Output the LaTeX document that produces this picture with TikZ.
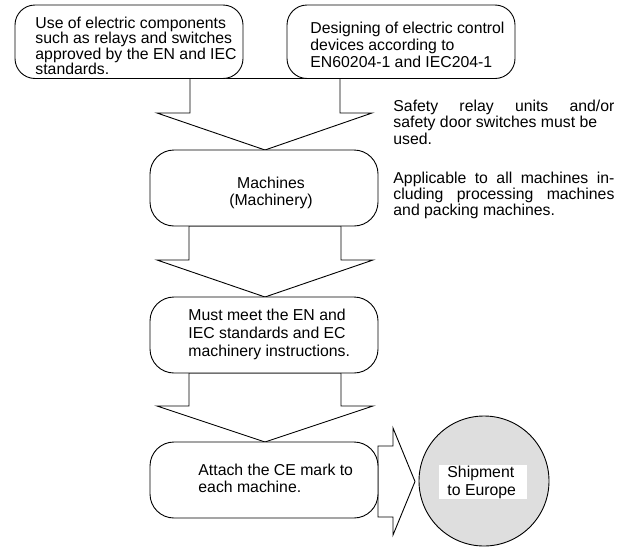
\documentclass[tikz,border=0pt]{standalone}
\usepackage{fontspec}
\setmainfont{Liberation Sans}
\begin{document}
\begin{tikzpicture}[x=1pt,y=-1pt,
  line width=0.9pt,
  box/.style={draw, rounded corners=20pt, fill=white, inner sep=0pt},
  blockarrow/.style={draw, fill=white, line join=miter},
  txt/.style={inner sep=0pt, align=left, anchor=north west},
]
\useasboundingbox (0,0) rectangle (618,549);
% block arrows (drawn first, boxes cover them)
\draw[blockarrow] (190,78.5) -- (190,113) -- (157,113) -- (265,150) -- (372,113) -- (340,113) -- (340,78.5) -- cycle;
\draw[blockarrow] (189,226) -- (189,260) -- (157,260) -- (265,297) -- (373,260) -- (341,260) -- (341,226) -- cycle;
\draw[blockarrow] (189,373) -- (189,406) -- (157,406) -- (265,442) -- (373,406) -- (341,406) -- (341,373) -- cycle;
\draw[blockarrow] (378,446) -- (393,446) -- (393,428) -- (415,481.5) -- (393,535) -- (393,517) -- (378,517) -- cycle;

% boxes
\node[box, minimum width=228pt, minimum height=73.5pt] (use) at (129,41.75) {};
\node[box, minimum width=228pt, minimum height=73.5pt] (design) at (401,41.75) {};
\node[box, rounded corners=24pt, minimum width=228pt, minimum height=76pt] (mach) at (264,188) {};
\node[box, rounded corners=24pt, minimum width=228pt, minimum height=76pt] (meet) at (264,335) {};
\node[box, rounded corners=24pt, minimum width=228pt, minimum height=76pt] (attach) at (264,480) {};

% circle
\node[draw, circle, fill=black!13, minimum size=130pt, inner sep=0pt] (ship) at (484,481) {};
\node[fill=white, minimum width=88pt, minimum height=34pt, inner sep=0pt] (shipbg) at (483,482) {};

% texts
\node[txt, font={\fontsize{15.8}{15.4}\selectfont}] (usetxt) at (35,16.5)
  {Use of electric components\\such as relays and switches\\approved by the EN and IEC\\standards.};
\node[txt, font={\fontsize{15.8}{17}\selectfont}] (designtxt) at (310,21.2)
  {Designing of electric control\\devices according to\\EN60204-1 and IEC204-1};
\node[txt, align=center, anchor=north, font={\fontsize{15.8}{16.5}\selectfont}] (machtxt) at (271,177)
  {Machines\\(Machinery)};
\node[txt, font={\fontsize{15.8}{17.8}\selectfont}] (meettxt) at (188,308.5)
  {Must meet the EN and\\IEC standards and EC\\machinery instructions.};
\node[txt, font={\fontsize{15.8}{17}\selectfont}] (attachtxt) at (198,463.5)
  {Attach the CE mark to\\each machine.};
\node[txt, font={\fontsize{15.8}{18.3}\selectfont}] (shiptxt) at (447,465.2)
  {Shipment\\to Europe};
\node[txt, font={\fontsize{15.8}{16.3}\selectfont}] (safety) at (393,99.5)
  {\makebox[221pt][s]{Safety relay units and/or}\\safety door switches must be\\used.};
\node[txt, font={\fontsize{15.8}{15.8}\selectfont}] (applic) at (393,171.8)
  {\makebox[221pt][s]{Applicable to all machines in-}\\\makebox[221pt][s]{cluding processing machines}\\and packing machines.};
\end{tikzpicture}
\end{document}
